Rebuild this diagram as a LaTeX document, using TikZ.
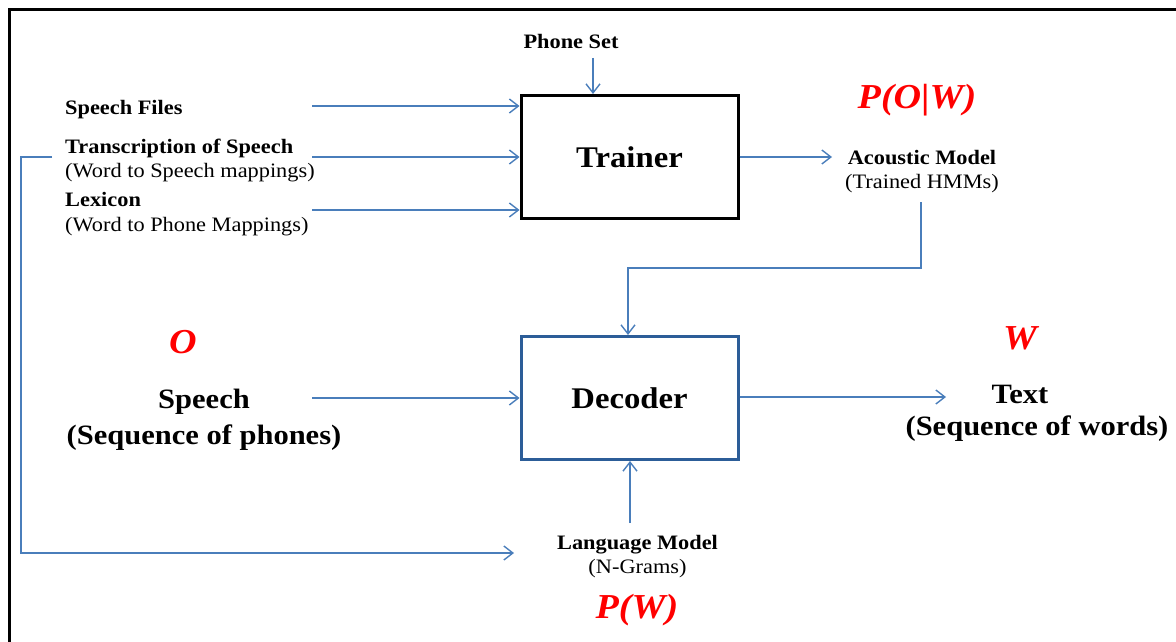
\documentclass[tikz,border=0pt]{standalone}
\usepackage{fontspec}
\setmainfont{Liberation Serif}[FakeStretch=1.09]
\usetikzlibrary{arrows.meta}
\definecolor{lineblue}{HTML}{4A7EBB}
\definecolor{boxblue}{HTML}{2C5D98}
\definecolor{probred}{HTML}{FF0000}
\tikzset{
  conn/.style={draw=lineblue, line width=1.4pt, -{Straight Barb[length=9pt,width=14pt,line width=1.4pt]}},
  stage/.style={draw, line width=3pt, minimum width=217pt, minimum height=123pt, inner sep=0pt},
  small/.style={font=\fontsize{20.5}{24.5}\selectfont, inner sep=0pt, align=center},
  smallleft/.style={font=\fontsize{20.5}{24.5}\selectfont, inner sep=0pt, align=left, anchor=west},
  large/.style={font=\fontsize{28}{36}\selectfont\bfseries, inner sep=0pt, align=center},
  prob/.style={font=\fontsize{35}{40}\selectfont\bfseries\itshape, text=probred, inner sep=0pt},
}
\begin{document}
\begin{tikzpicture}[x=1pt, y=-1pt]
\useasboundingbox (0,0) rectangle (1176,642);
% outer frame (top and left edges)
\draw[line width=3pt] (9.5,642) -- (9.5,9.5) -- (1176,9.5);

% processing stages
\node[stage] (trainer) at (629.5,157) {\fontsize{30}{36}\selectfont\bfseries Trainer};
\node[stage, draw=boxblue] (decoder) at (629.5,398) {\fontsize{30}{36}\selectfont\bfseries Decoder};

% trainer inputs
\node[small] (phoneset) at (571,41.5) {\textbf{Phone Set}};
\node[smallleft] (speechfiles) at (65,109.5) {\textbf{Speech Files}};
\node[smallleft] (transcr) at (65,160.5) {\textbf{Transcription of Speech}\\(Word to Speech mappings)};
\node[smallleft] (lexicon) at (65,214) {\textbf{Lexicon}\\(Word to Phone Mappings)};

% trainer output
\node[small] (acoustic) at (922,171.5) {\textbf{Acoustic Model}\\(Trained HMMs)};
\node[prob] (pow) at (917,100) {P(O|W)};

% decoder input and output
\node[prob] (obs) at (183,342) {O};
\node[large] (speech) at (204,420) {Speech\\(Sequence of phones)};
\node[prob] (wrd) at (1020,338) {W};
\node[large] (textlbl) at (1020,394.5) {Text};
\node[large] (textsub) at (1037,428.5) {(Sequence of words)};
\node[small] (langmodel) at (637.5,556.5) {\textbf{Language Model}\\(N-Grams)};
\node[prob] (pw) at (637,610) {P(W)};

% connector end points
\coordinate (psA) at (593,58);
\coordinate (sfA) at (312,106);
\coordinate (trA) at (312,157);
\coordinate (lxA) at (312,210);
\coordinate (fbA) at (52,157);
\coordinate (fbB) at (21,157);
\coordinate (fbC) at (21,553);
\coordinate (fbD) at (514,553);
\coordinate (trOut) at (832,157);
\coordinate (amA) at (921,202);
\coordinate (amB) at (921,268);
\coordinate (amC) at (628,268);
\coordinate (spA) at (312,398);
\coordinate (deOut) at (946,397);
\coordinate (lmA) at (630,523);

% connectors
\draw[conn] (psA) -- (psA |- trainer.north);
\draw[conn] (sfA) -- (sfA -| trainer.west);
\draw[conn] (trA) -- (trA -| trainer.west);
\draw[conn] (lxA) -- (lxA -| trainer.west);
\draw[conn] (fbA) -- (fbB) -- (fbC) -- (fbD);
\draw[conn] (trainer.east |- trOut) -- (trOut);
\draw[conn] (amA) -- (amB) -- (amC) -- (amC |- decoder.north);
\draw[conn] (spA) -- (spA -| decoder.west);
\draw[conn] (decoder.east |- deOut) -- (deOut);
\draw[conn] (lmA) -- (lmA |- decoder.south);
\end{tikzpicture}
\end{document}
